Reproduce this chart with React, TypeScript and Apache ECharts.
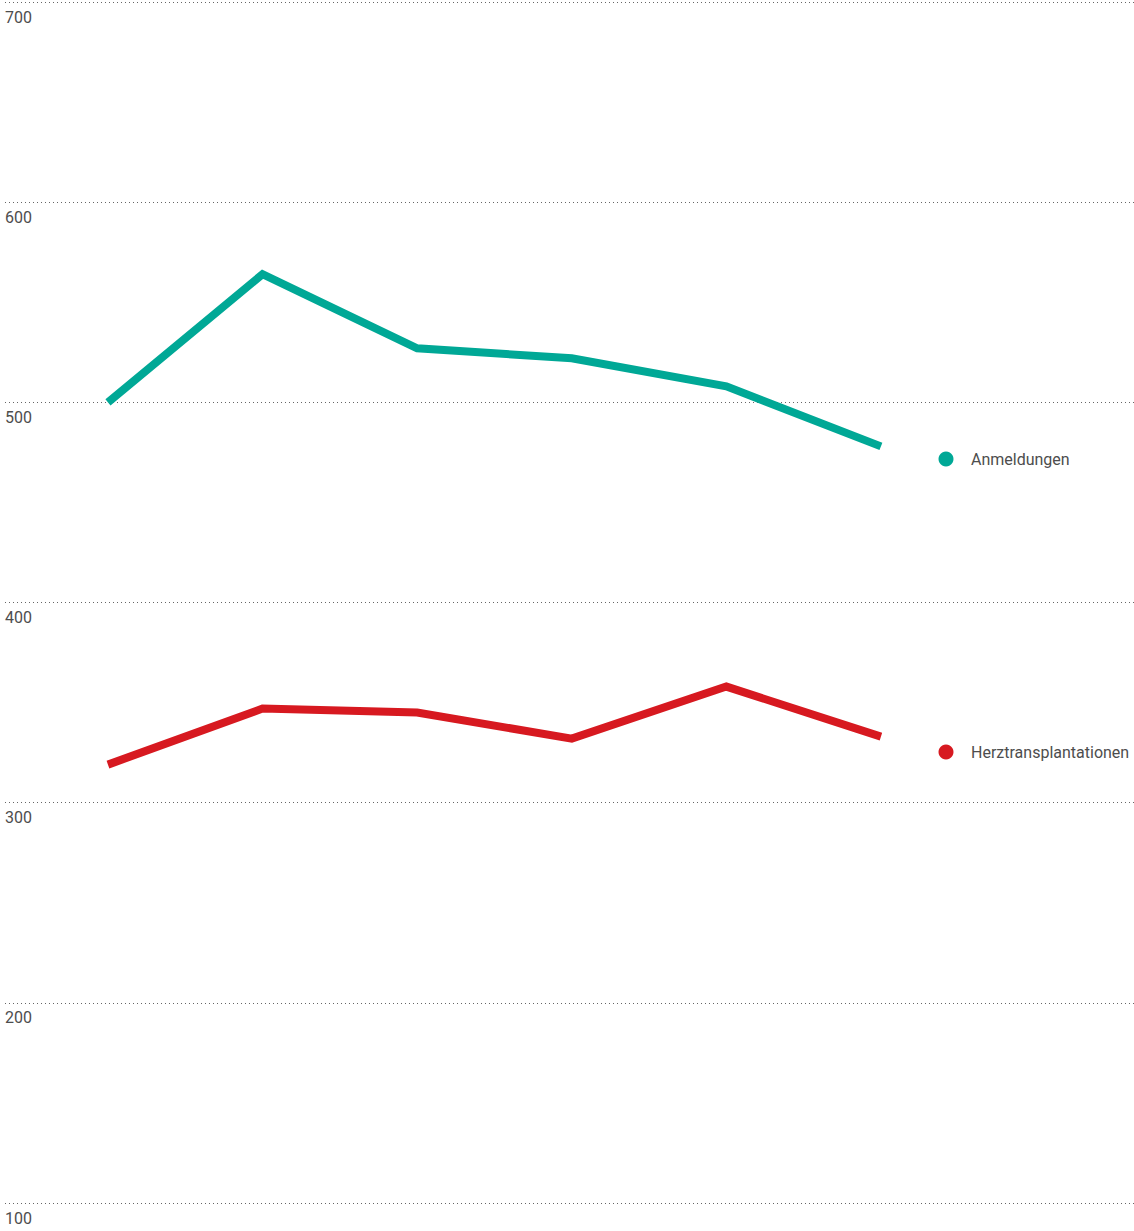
import React, { useEffect, useRef } from "react";
import * as echarts from "echarts";

const categories = ["1", "2", "3", "4", "5", "6"];
const anmeldungen = [500, 564, 527, 522, 508, 478];
const herztransplantationen = [319, 347, 345, 332, 358, 333];
const seriesNames = ["Anmeldungen", "Herztransplantationen"];
const seriesColors = ["#00a896", "#d71920"];
const yTicks = [100, 200, 300, 400, 500, 600, 700];

export default function App() {
  const ref = useRef<HTMLDivElement>(null);
  useEffect(() => {
    if (!ref.current) return;
    const chart = echarts.init(ref.current, null, { renderer: "svg" });
    const toPairs = (arr: number[]) => arr.map((v, i) => [i, v]);
    chart.setOption({
      animation: false,
      grid: { left: 5, right: 0, top: 2, bottom: 28, containLabel: false },
      xAxis: {
        type: "value",
        min: -0.666,
        max: 6.637,
        show: false,
        data: categories,
      },
      yAxis: {
        type: "value",
        min: yTicks[0],
        max: yTicks[yTicks.length - 1],
        interval: 100,
        axisLine: { show: false },
        axisTick: { show: false },
        splitLine: {
          show: true,
          lineStyle: { color: "#666666", width: 1, type: [1, 3] },
        },
        axisLabel: {
          inside: true,
          align: "left",
          verticalAlign: "top",
          padding: [7, 0, 0, 0],
          margin: 0,
          color: "#4d4d4d",
          fontFamily: "Roboto",
          fontSize: 16,
          fontWeight: "normal",
        },
      },
      series: [
        {
          name: seriesNames[0],
          type: "line",
          data: toPairs(anmeldungen),
          symbol: "none",
          lineStyle: { color: seriesColors[0], width: 8, cap: "butt", join: "miter" },
        },
        {
          name: seriesNames[1],
          type: "line",
          data: toPairs(herztransplantationen),
          symbol: "none",
          lineStyle: { color: seriesColors[1], width: 8, cap: "butt", join: "miter" },
        },
      ],
      graphic: [
        { type: "circle", shape: { cx: 946, cy: 459, r: 7.5 }, style: { fill: seriesColors[0] } },
        {
          type: "text",
          x: 971,
          y: 459,
          style: {
            text: seriesNames[0],
            fill: "#4d4d4d",
            font: "normal 16px Roboto",
            verticalAlign: "middle",
          },
        },
        { type: "circle", shape: { cx: 946, cy: 752, r: 7.5 }, style: { fill: seriesColors[1] } },
        {
          type: "text",
          x: 971,
          y: 752,
          style: {
            text: seriesNames[1],
            fill: "#4d4d4d",
            font: "normal 16px Roboto",
            verticalAlign: "middle",
          },
        },
      ],
    });
    return () => chart.dispose();
  }, []);
  return (
    <div
      ref={ref}
      style={{ position: "fixed", left: 0, top: 0, width: 1134, height: 1231, background: "#fff" }}
    />
  );
}
